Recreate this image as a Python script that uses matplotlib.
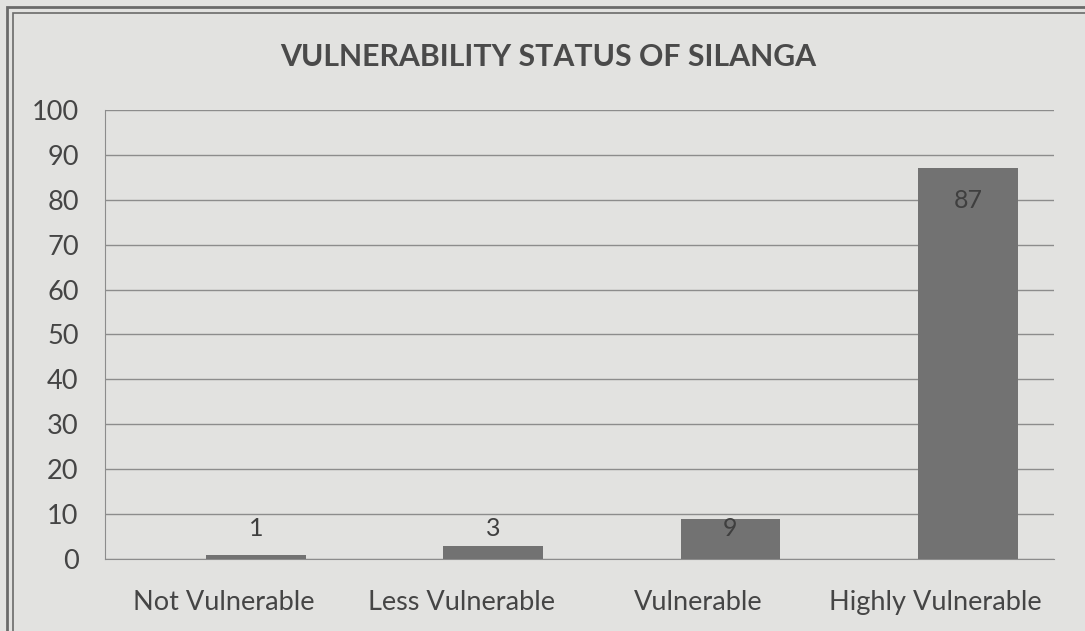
import matplotlib.pyplot as plt
from matplotlib.patches import Rectangle

categories = ['Not Vulnerable', 'Less Vulnerable', 'Vulnerable', 'Highly Vulnerable']
values = [1, 3, 9, 87]
yticks = [0, 10, 20, 30, 40, 50, 60, 70, 80, 90, 100]

bg = '#e2e2e0'
txt = '#454545'
font = 'Lato'

fig = plt.figure(figsize=(10.85, 6.31), dpi=100, facecolor=bg)
ax = fig.add_axes([0.0968, 0.114, 0.875, 0.712], facecolor=bg)

x = list(range(len(categories)))
shift = 0.135  # bars sit a bit right of the category centre in the original
ax.bar([i + shift for i in x], values, width=0.42, color='#727272', zorder=3)

# data labels: inside the top for tall bars, otherwise floating low
for i, v in enumerate(values):
    ax.text(i + shift, max(v - 7.1, 6.7), str(v), ha='center', va='center',
            fontsize=18, color='#3f3f3f', family=font, zorder=4)

ax.set_xlim(-0.5, 3.5)
ax.set_ylim(0, 100)
ax.set_yticks(yticks)
ax.set_xticks(x)
ax.set_xticklabels(categories)
ax.yaxis.grid(True, color='#8c8c8c', linewidth=1.0, zorder=0)
ax.tick_params(length=0, labelsize=19.5, labelcolor=txt)
ax.tick_params(axis='y', pad=19)
ax.tick_params(axis='x', pad=22)
for lab in ax.get_xticklabels() + ax.get_yticklabels():
    lab.set_family(font)
for s in ['top', 'right']:
    ax.spines[s].set_visible(False)
ax.spines['left'].set_color('#8c8c8c')
ax.spines['bottom'].set_color('#8c8c8c')

fig.text(0.505, 0.91, 'VULNERABILITY STATUS OF SILANGA', ha='center', va='center',
         fontsize=21.8, fontweight='bold', color='#4a4a4a', family=font)

# double border of the chart frame
fig.patches.append(Rectangle((7 / 1085, -0.05), 1.2, (631 - 7) / 631 + 0.05,
                             transform=fig.transFigure, fill=False,
                             edgecolor='#6a6a6a', linewidth=2))
fig.patches.append(Rectangle((13 / 1085, -0.05), 1.2, (631 - 13) / 631 + 0.05,
                             transform=fig.transFigure, fill=False,
                             edgecolor='#6a6a6a', linewidth=1.2))

fig.savefig('out.png', dpi=100, facecolor=bg)
